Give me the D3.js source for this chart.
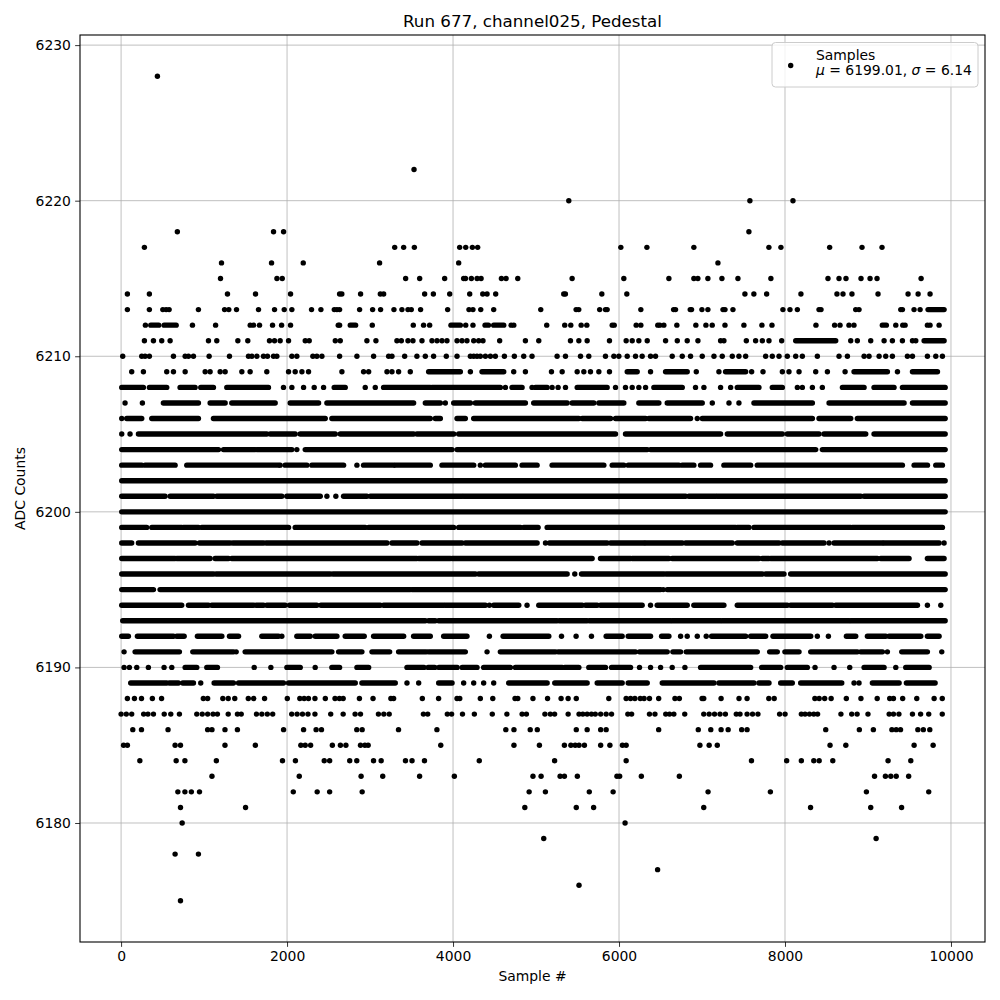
<!DOCTYPE html>
<html><head><meta charset="utf-8">
<script src="https://cdn.jsdelivr.net/npm/d3@7"></script>
<style>body{margin:0;background:#fff} text{font-family:"DejaVu Sans",sans-serif;fill:#000}</style>
</head><body><svg id="c" width="1000" height="1000"></svg>
<script>
// ---- data (sample index; a number = one sample, [a,b] = a run of adjacent samples at that ADC level)
const titleText = "Run 677, channel025, Pedestal";
const xLabel = "Sample #";
const yLabel = "ADC Counts";
const xTicks = [0, 2000, 4000, 6000, 8000, 10000];
const yTicks = [6180, 6190, 6200, 6210, 6220, 6230];
const legendName = "Samples";
const meanValue = "6199.01";
const sigmaValue = "6.14";

const L6228 = [438];
const L6222 = [3530];
const L6220 = [5395, 7577, 8096];
const L6218 = [678, 1837, 1958, 7565];
const L6217 = [281, 3297, 3405, 3534, 4080, 4153, 4233, 4297, 6022, 6336, 6902, 7806, 7951, 8538, 8928, 9169];
const L6216 = [1210, 1813, 2195, 3115, 4068, 7192];
const L6215 = [1198, 1878, 1942, 3429, 3598, 3899, 4128, 4150, 4221, 4290, 4338, 4583, 4639, 4780, 5435, 6058, 6601, 6902, 6950, 7071, 7240, 7433, 7830, 8518, 8651, 8735, 8916, 9025, 9109, 9640];
const L6214 = [76, 341, 1282, 1620, 2042, 2633, 2660, 2886, 3124, 3164, 3658, 3763, 3960, 4201, 4358, 4410, 4514, 5334, 5354, 5793, 6094, 7517, 7625, 7779, 8192, 8626, 8699, 8807, 9121, 9483, 9604, 9748];
const L6213 = [76, 341, 503, 543, 579, 932, 1247, 1298, 1391, 1656, 1849, 1966, 2058, 2295, 2408, 2569, 2601, 2633, 2874, 3031, 3127, 3288, 3384, 3457, 3497, 3609, 3935, 4192, 4240, 4334, 4490, 5057, 5483, 5515, 5767, 5837, 5857, 6263, 6658, 6681, 6858, 6874, 6999, 7071, 7253, 7277, 7373, 7975, 8060, 8149, 8410, 8434, 8852, 8892, 9395, 9415, 9555, 9628, [9724, 9917]];
const L6212 = [293, [358, 454], [519, 664], 860, 1139, 1556, 1596, 1668, 1825, 1934, 2042, 2617, 2633, [2762, 2826], 3027, 3521, 3645, 3718, [3975, 4088], 4153, 4240, [4386, 4426], [4490, 4611], 4700, 4732, 5129, 5346, 5419, 5544, 5612, 5918, 5942, 6207, 6263, 6467, 6491, 6540, 6697, 6926, 7047, 7123, 7277, 7505, 7722, 7843, 8373, 8598, 8663, 8771, 8831, [9173, 9221], 9335, 9419, 9447, 9716, 9748, 9857];
const L6211 = [281, 390, 490, 591, 1053, 1153, 1407, 1527, 1788, 1849, 1917, 2018, 2219, 2267, 2581, 2641, 2962, 3071, 3324, 3377, 3457, 3517, 3626, 3746, 3807, 3867, 3927, 4048, 4108, 4168, 4249, 4309, 4361, 4562, 4872, 5033, 5415, 5516, 5616, 5885, 6086, 6159, 6239, 6340, 6561, 6702, 6822, 6951, 7224, 7264, 7534, 7646, 7727, 7807, 7960, [8129, 8611], 8792, 8872, 9033, 9194, 9294, 9415, 9536, 9576, [9676, 9917]];
const L6210 = [20, 249, 289, 341, 631, 772, 812, 872, 1061, 1306, 1535, 1576, 1636, 1716, 1764, 1837, 1877, 2058, 2118, 2311, 2359, 2420, 2633, 2842, 3043, 3224, 3264, 3417, 3565, 3666, 3766, 3919, 4048, 4209, 4249, 4289, 4329, 4390, 4450, 4510, 4619, 4739, 4852, 4952, 5254, 5355, 5536, 5636, 5837, 5938, 5998, 6099, 6199, 6279, 6380, 6440, 6641, 6762, 6862, 7003, 7144, 7244, 7365, 7445, 7526, 7767, 7847, 7928, 8028, 8129, 8209, 8390, 8651, 8752, 8953, 9013, 9134, 9214, 9294, 9475, 9536, 9716, 9817, 9897];
const L6209 = [128, 269, 550, 631, 772, 1013, 1073, 1194, 1254, 1455, 1555, 1756, 2018, 2098, 2179, 2259, 2661, 2922, 2983, 3204, 3264, 3344, 3485, [3706, 4088], 4209, [4349, 4611], 4731, 4872, 5186, 5315, 5496, 5576, 5656, 5757, 5885, [6099, 6219], 6380, [6561, 6822], 6931, 7204, [7284, 7526], 7598, 7735, 7968, 8048, 8169, 8370, 8511, 8724, [8832, 9234], 9355, [9536, 9837]];
const L6208 = [[8, 269], [341, 550], [711, 892], [960, 1113], [1274, 1776], 1957, 2058, 2199, 2327, 2440, [2568, 2701], 2942, 3063, [3163, 3726], [3746, 4570], 4631, [4711, 4832], 4952, [4993, 5134], 5194, 5266, 5355, [5496, 5857], 5958, 6078, 6159, 6239, 6320, [6420, 6762], 6922, 7023, 7224, 7345, [7425, 7686], [7847, 7968], 8149, 8209, 8330, 8450, [8692, 8953], [9073, 9314], [9415, 9930]];
const L6207 = [48, 257, [510, 932], [1073, 1254], [1334, 1857], [2038, 2380], [2480, 3525], [3666, 3847], 3907, [4008, 4209], [4269, 4872], [4972, 5375], [5435, 5696], [5757, 6058], [6239, 6480], [6581, 7003], 7124, 7325, 7445, [7626, 8330], [8531, 9435], [9536, 9930]];
const L6206 = [8, [68, 249], [370, 932], [1113, 2460], [2540, 3726], [3786, 3847], [4048, 4148], [4249, 5516], [5556, 5898], [5958, 6320], [6360, 6862], 6943, [7003, 8330], [8410, 8792], [8872, 9930]];
const L6205 = [8, 108, [209, 1756], [1797, 2098], [2158, 2581], [2641, 3525], [3565, 4008], [4068, 5958], [6078, 7224], [7305, 7968], [8028, 8410], [8470, 8973], [9073, 9930]];
const L6204 = [[8, 1174], [1234, 1616], [1636, 2058], 2118, [2219, 3988], [4048, 6340], [6380, 8370], [8450, 9930]];
const L6203 = [[8, 249], [289, 651], [792, 1897], 1917, [1977, 2239], [2299, 2681], 2842, [2922, 3284], [3304, 3726], [3867, 4249], 4329, [4390, 4751], [4832, 5013], [5194, 5817], [5918, 6058], [6111, 6722], [6762, 6902], [6983, 7103], [7264, 7586], [7666, 9415], [9556, 9717], [9817, 9897]];
const L6202 = [[8, 9930]];
const L6201 = [[8, 530], [591, 1113], [1153, 1937], [1997, 2400], 2480, 2588, [2681, 2962], [3003, 4108], [4128, 6802], [6842, 7164], [7184, 8913], [8953, 9930]];
const L6200 = [[8, 9930]];
const L6199 = [[8, 309], [370, 731], [751, 932], [973, 2018], [2098, 2942], [2983, 4008], [4068, 4812], [4852, 5025], [5134, 7405], [7425, 7566], [7626, 8792], [8812, 9897]];
const L6198 = [[8, 128], [209, 892], [944, 1314], [1346, 1716], [1748, 3204], [3264, 3565], [3626, 4108], [4148, 5013], 5114, [5162, 5857], [5898, 6300], [6320, 6762], [6802, 7365], [7425, 7928], [7968, 8470], 8531, [8591, 9174], [9194, 9857], 9917];
const L6197 = [[8, 651], [671, 1073], [1133, 1294], [1334, 3565], [3586, 3968], [3988, 5676], [5777, 6139], [6159, 6601], [6641, 7686], [7727, 7807], [7827, 9113], [9154, 9495], [9716, 9917]];
const L6196 = [[8, 1113], [1145, 2520], [2552, 4269], [4309, 5375], 5467, [5548, 6541], [6569, 7727], [7767, 7988], [8068, 9930]];
const L6195 = [[8, 390], [470, 3485], [3505, 6501], 6533, [6581, 9930]];
const L6194 = [[8, 731], [812, 1053], [1093, 1596], [1628, 1716], [1756, 1977], [2030, 2359], [2408, 3123], [3163, 3887], [3907, 4390], 4438, [4490, 4792], 4892, [5033, 5556], [5596, 5737], [5777, 6279], 6380, [6460, 6822], [6902, 7264], [7425, 8028], [8068, 8571], [8611, 9596], 9716, 9877];
const L6193 = [[20, 3666], [3706, 3786], [3827, 5254], [5282, 5616], [5644, 6621], [6641, 7224], [7244, 8772], [8792, 9930]];
const L6192 = [[8, 88], [197, 631], [671, 760], [920, 1214], [1306, 1415], [1696, 1897], 1937, [2118, 2279], [2339, 2601], [2701, 2930], [3043, 3405], [3525, 3726], [3887, 4168], 4438, [4603, 5154], 5307, 5483, 5668, [5845, 6038], [6111, 6380], [6513, 6601], 6742, 6822, 6943, 7051, [7116, 7526], [7586, 7767], [7855, 8310], 8390, 8523, [8740, 8852], [8993, 9214], [9254, 9636], [9716, 9857]];
const L6191 = [36, [169, 703], [864, 1354], 1387, [1495, 2540], [2621, 2902], [3023, 3236], [3344, 3678], [3706, 4148], 4410, [4570, 5234], [5266, 6199], [6247, 6581], [6649, 6742], [6810, 7666], [7815, 7907], [7999, 8169], [8310, 8872], [8913, 9174], 9234, [9407, 9716], 9889];
const L6190 = [36, 100, 189, 329, 518, 611, [772, 912], [1033, 1161], 1604, 1805, [1998, 2159], 2339, [2540, 2633], [2842, 2983], [3445, 3650], [3700, 3780], [3830, 4050], [4110, 4289], [4369, 4691], [4751, 5315], [5347, 5516], [5636, 5837], [5910, 6139], 6247, 6380, 6501, 6641, 6794, [6983, 7586], [7719, 7948], [8028, 8269], 8362, 8591, 8780, [8953, 9194], 9335, [9455, 9737]];
const L6189 = [[116, 550], [583, 691], [743, 872], 960, [1121, 1354], [1415, 1957], [2018, 2822], [2902, 3304], 3445, 3586, [3827, 3988], 4128, 4249, 4369, 4490, [4671, 5134], [5226, 5616], [5737, 6038], [6111, 6340], [6521, 7144], [7204, 7626], [7686, 7807], [7948, 8088], [8189, 8684], 8832, 8892, [9053, 9375], [9463, 9809]];
const L6188 = [76, 161, 246, 377, 488, 991, 1043, 1226, 1291, 1370, 1533, 1598, 1729, 2003, 2154, 2206, 2258, 2336, 2461, 2578, 2631, 2676, 2872, 3036, 3251, 3284, 3630, 3826, 4048, 4081, 4329, 4479, 4747, 4780, 4963, 5139, 5302, 5387, 5485, 5877, 6086, 6139, 6191, 6256, 6302, 6367, 6478, 6674, 6727, 7001, 7021, 7230, 7446, 7543, 7805, 7870, 8360, 8412, 8478, 8556, 8739, 8915, 9111, 9262, 9307, 9418, 9588, 9797, 9895];
const L6187 = [0, 63, 128, 272, 324, 390, 520, 599, 703, 912, 978, 1043, 1108, 1161, 1291, 1402, 1448, 1631, 1696, 1762, 1827, 2056, 2121, 2186, 2252, 2336, 2526, 2676, 2820, 2885, 3101, 3166, 3231, 3643, 3695, 3931, 3983, 4114, 4257, 4473, 4649, 4832, 4884, 5107, 5172, 5224, 5387, 5518, 5564, 5616, 5668, 5714, 5779, 5845, 5910, 6106, 6152, 6367, 6433, 6563, 6609, 6661, 6792, 7021, 7086, 7151, 7217, 7282, 7413, 7458, 7543, 7609, 7674, 7935, 8001, 8197, 8242, 8295, 8347, 8393, 8674, 8804, 8869, 9000, 9255, 9307, 9373, 9536, 9634, 9732, 9895];
const L6186 = [141, 246, 566, 1043, 1095, 1252, 1402, 1958, 2199, 2350, 2415, 2840, 2905, 3343, 3806, 4636, 4734, 4930, 5015, 5485, 5616, 5779, 5845, 6478, 6955, 7106, 7230, 7315, 7478, 7543, 8491, 8896, 9065, 9288, 9340, 9392, 9601, 9667, 9745];
const L6185 = [30, 76, 651, 716, 1252, 1618, 2166, 2219, 2284, 2546, 2643, 2709, 2885, 2938, 2977, 3852, 4734, 5041, 5342, 5420, 5472, 5518, 5583, 5779, 5890, 6041, 6086, 6975, 7086, 7184, 8543, 8733, 9556, 9785];
const L6184 = [226, 664, 769, 1148, 1945, 2101, 2448, 2513, 2755, 2840, 3042, 3134, 3427, 3506, 3656, 4316, 5224, 6086, 7596, 8020, 8197, 8347, 8412, 8576, 9242, 9516];
const L6183 = [1095, 2147, 2892, 3153, 3597, 4016, 4963, 5061, 5290, 5342, 5498, 5975, 6008, 6269, 6727, 9079, 9210, 9275, 9340, 9490];
const L6182 = [684, 769, 847, 945, 2075, 2363, 2513, 2905, 4917, 5113, 5642, 5929, 7073, 7824, 8981, 9732];
const L6181 = [716, 1500, 4865, 5485, 5694, 7021, 8308, 9033, 9405];
const L6180 = [736, 6073];
const L6179 = [5093, 9098];
const L6178 = [651, 932];
const L6177 = [6465];
const L6176 = [5518];
const L6175 = [716];

const adcLevels = [
  [6228, L6228], [6222, L6222], [6220, L6220], [6218, L6218], [6217, L6217], [6216, L6216],
  [6215, L6215], [6214, L6214], [6213, L6213], [6212, L6212], [6211, L6211], [6210, L6210],
  [6209, L6209], [6208, L6208], [6207, L6207], [6206, L6206], [6205, L6205], [6204, L6204],
  [6203, L6203], [6202, L6202], [6201, L6201], [6200, L6200], [6199, L6199], [6198, L6198],
  [6197, L6197], [6196, L6196], [6195, L6195], [6194, L6194], [6193, L6193], [6192, L6192],
  [6191, L6191], [6190, L6190], [6189, L6189], [6188, L6188], [6187, L6187], [6186, L6186],
  [6185, L6185], [6184, L6184], [6183, L6183], [6182, L6182], [6181, L6181], [6180, L6180],
  [6179, L6179], [6178, L6178], [6177, L6177], [6176, L6176], [6175, L6175]
];

// ---- drawing
const svg = d3.select("#c");
const P = {l: 80, r: 985, t: 35, b: 942};
const x = d3.scaleLinear().domain([-495, 10410]).range([P.l, P.r]);
const y = d3.scaleLinear().domain([6172.35, 6230.65]).range([P.b, P.t]);
const R = 2.7;

// grid
const grid = svg.append("g");
grid.selectAll("line.gx").data(xTicks).join("line")
  .attr("x1", d => x(d)).attr("x2", d => x(d)).attr("y1", P.t).attr("y2", P.b)
  .attr("stroke", "#b0b0b0").attr("stroke-width", 0.8);
grid.selectAll("line.gy").data(yTicks).join("line")
  .attr("y1", d => y(d)).attr("y2", d => y(d)).attr("x1", P.l).attr("x2", P.r)
  .attr("stroke", "#b0b0b0").attr("stroke-width", 0.8);

// points
const singles = [], runs = [];
adcLevels.forEach(([v, arr]) => arr.forEach(e => {
  if (typeof e === "number") singles.push({s: e, v});
  else runs.push({a: e[0], b: e[1], v});
}));
const pts = svg.append("g");
pts.selectAll("line").data(runs).join("line")
  .attr("x1", d => x(d.a)).attr("x2", d => x(d.b))
  .attr("y1", d => y(d.v)).attr("y2", d => y(d.v))
  .attr("stroke", "#000").attr("stroke-width", 2 * R).attr("stroke-linecap", "round");
pts.selectAll("circle").data(singles).join("circle")
  .attr("cx", d => x(d.s)).attr("cy", d => y(d.v)).attr("r", R).attr("fill", "#000");

// axes
const xAxis = d3.axisBottom(x).tickValues(xTicks).tickSize(4.86).tickPadding(4.2).tickFormat(d3.format("d"));
const yAxis = d3.axisLeft(y).tickValues(yTicks).tickSize(4.86).tickPadding(4.2).tickFormat(d3.format("d"));
const gx = svg.append("g").attr("transform", `translate(0,${P.b})`).call(xAxis);
const gy = svg.append("g").attr("transform", `translate(${P.l},0)`).call(yAxis);
[gx, gy].forEach(g => {
  g.select(".domain").remove();
  g.selectAll(".tick line").attr("stroke", "#000").attr("stroke-width", 0.8);
  g.selectAll(".tick text").attr("font-size", "13.9px").attr("font-family", "DejaVu Sans").attr("fill", "#000");
});

// frame
svg.append("rect").attr("x", P.l).attr("y", P.t).attr("width", P.r - P.l).attr("height", P.b - P.t)
  .attr("fill", "none").attr("stroke", "#000").attr("stroke-width", 1.1);

// labels
svg.append("text").attr("x", (P.l + P.r) / 2).attr("y", 27).attr("text-anchor", "middle")
  .attr("font-size", "16.7px").text(titleText);
svg.append("text").attr("x", (P.l + P.r) / 2).attr("y", 981).attr("text-anchor", "middle")
  .attr("font-size", "13.9px").text(xLabel);
svg.append("text").attr("transform", `translate(25,${(P.t + P.b) / 2}) rotate(-90)`).attr("text-anchor", "middle")
  .attr("font-size", "13.9px").text(yLabel);

// legend
const lg = svg.append("g");
lg.append("rect").attr("x", 772).attr("y", 42.5).attr("width", 206).attr("height", 44.5).attr("rx", 3.5)
  .attr("fill", "#fff").attr("fill-opacity", 0.8).attr("stroke", "#cccccc").attr("stroke-width", 1);
lg.append("circle").attr("cx", 790.7).attr("cy", 65.5).attr("r", R).attr("fill", "#000");
lg.append("text").attr("x", 816).attr("y", 60).attr("font-size", "13.9px").text(legendName);
const t2 = lg.append("text").attr("x", 816).attr("y", 75).attr("font-size", "13.9px");
t2.append("tspan").attr("font-style", "italic").text("μ");
t2.append("tspan").text(" = " + meanValue + ", ");
t2.append("tspan").attr("font-style", "italic").text("σ");
t2.append("tspan").text(" = " + sigmaValue);
</script></body></html>
